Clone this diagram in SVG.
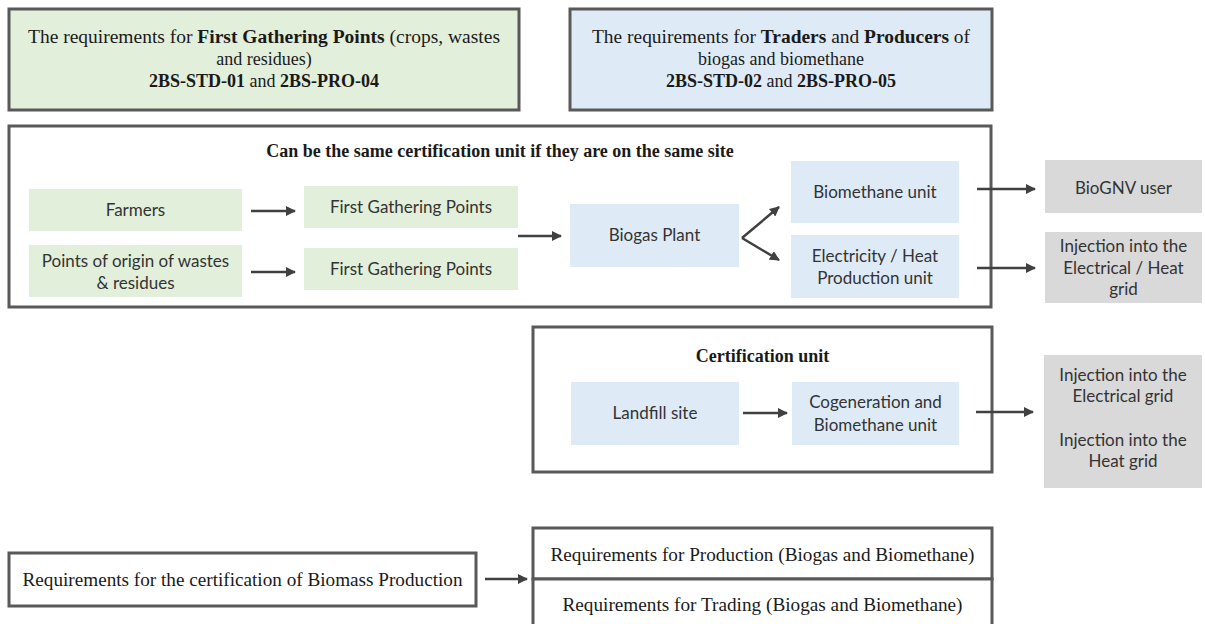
<svg xmlns="http://www.w3.org/2000/svg" width="1205" height="624" viewBox="0 0 1205 624">
<defs>
<style>
.frame{fill:#fff;stroke:#595959;stroke-width:3}
.g{fill:#e2efda}
.b{fill:#deebf7}
.gr{fill:#d9d9d9}
.serif{font-family:"Liberation Serif","DejaVu Serif",serif;font-size:18px;fill:#1a1a1a;text-anchor:middle}
.sans{font-family:Lato,"Liberation Sans",sans-serif;font-size:17px;fill:#333;text-anchor:middle}
.bold{font-weight:bold}
.conn line{stroke:#404040;stroke-width:2.5;marker-end:url(#ah)}
</style>
<marker id="ah" viewBox="0 0 10 10" refX="9" refY="5" markerWidth="4" markerHeight="4" orient="auto" markerUnits="strokeWidth">
<path d="M0,0 L10,5 L0,10 z" fill="#404040"/>
</marker>
</defs>
<rect width="1205" height="624" fill="#fff"/>

<g id="req-fgp">
<rect x="9" y="9" width="510" height="101" class="frame g"/>
<text class="serif" x="264" y="43" textLength="472" lengthAdjust="spacingAndGlyphs">The requirements for <tspan class="bold">First Gathering Points</tspan> (crops, wastes</text>
<text class="serif" x="264" y="65">and residues)</text>
<text class="serif" x="264" y="87"><tspan class="bold">2BS-STD-01</tspan> and <tspan class="bold">2BS-PRO-04</tspan></text>
</g>

<g id="req-traders">
<rect x="570" y="9" width="422" height="101" class="frame b"/>
<text class="serif" x="781" y="43" textLength="378" lengthAdjust="spacingAndGlyphs">The requirements for <tspan class="bold">Traders</tspan> and <tspan class="bold">Producers</tspan> of</text>
<text class="serif" x="781" y="65">biogas and biomethane</text>
<text class="serif" x="781" y="87"><tspan class="bold">2BS-STD-02</tspan> and <tspan class="bold">2BS-PRO-05</tspan></text>
</g>

<g id="same-site-unit">
<rect x="9" y="126" width="982" height="181" class="frame"/>
<text class="serif bold" x="500" y="157">Can be the same certification unit if they are on the same site</text>
</g>

<g id="farmers">
<rect x="29" y="189" width="213" height="42" class="g"/>
<text class="sans" x="135.5" y="216">Farmers</text>
</g>
<g id="points-origin">
<rect x="29" y="245" width="213" height="52" class="g"/>
<text class="sans" x="135.5" y="267">Points of origin of wastes</text>
<text class="sans" x="135.5" y="289">&amp; residues</text>
</g>
<g id="fgp1">
<rect x="304" y="186" width="214" height="42" class="g"/>
<text class="sans" x="411" y="213">First Gathering Points</text>
</g>
<g id="fgp2">
<rect x="304" y="248" width="214" height="42" class="g"/>
<text class="sans" x="411" y="275">First Gathering Points</text>
</g>
<g id="biogas-plant">
<rect x="570" y="204" width="169" height="63" class="b"/>
<text class="sans" x="654.5" y="241">Biogas Plant</text>
</g>
<g id="biomethane-unit">
<rect x="791" y="161" width="168" height="62" class="b"/>
<text class="sans" x="875" y="198">Biomethane unit</text>
</g>
<g id="elec-heat-unit">
<rect x="791" y="235" width="168" height="63" class="b"/>
<text class="sans" x="875" y="262">Electricity / Heat</text>
<text class="sans" x="875" y="284">Production unit</text>
</g>
<g id="biognv-user">
<rect x="1045" y="160" width="157" height="53" class="gr"/>
<text class="sans" x="1123.5" y="194">BioGNV user</text>
</g>
<g id="injection-elec-heat">
<rect x="1045" y="232" width="157" height="71" class="gr"/>
<text class="sans" x="1123.5" y="252">Injection into the</text>
<text class="sans" x="1123.5" y="274">Electrical / Heat</text>
<text class="sans" x="1123.5" y="295">grid</text>
</g>

<g id="certification-unit">
<rect x="533" y="327" width="459" height="145" class="frame"/>
<text class="serif bold" x="762.5" y="362">Certification unit</text>
</g>
<g id="landfill">
<rect x="571" y="382" width="168" height="63" class="b"/>
<text class="sans" x="655" y="419">Landfill site</text>
</g>
<g id="cogeneration">
<rect x="792" y="382" width="167" height="63" class="b"/>
<text class="sans" x="875.5" y="408">Cogeneration and</text>
<text class="sans" x="875.5" y="431">Biomethane unit</text>
</g>
<g id="injection-grids">
<rect x="1044" y="355" width="158" height="133" class="gr"/>
<text class="sans" x="1123" y="381">Injection into the</text>
<text class="sans" x="1123" y="402">Electrical grid</text>
<text class="sans" x="1123" y="446">Injection into the</text>
<text class="sans" x="1123" y="467">Heat grid</text>
</g>

<g id="biomass-req">
<rect x="9" y="553" width="467" height="53" class="frame"/>
<text class="serif" x="242.5" y="586" textLength="440" lengthAdjust="spacingAndGlyphs">Requirements for the certification of Biomass Production</text>
</g>
<g id="production-req">
<rect x="533" y="528" width="459" height="51" class="frame"/>
<text class="serif" x="762.5" y="561" textLength="424" lengthAdjust="spacingAndGlyphs">Requirements for Production (Biogas and Biomethane)</text>
</g>
<g id="trading-req">
<rect x="533" y="579" width="459" height="60" class="frame"/>
<text class="serif" x="762.5" y="611" textLength="400" lengthAdjust="spacingAndGlyphs">Requirements for Trading (Biogas and Biomethane)</text>
</g>

<g id="connectors" class="conn">
<line x1="251" y1="211" x2="295" y2="211"/>
<line x1="251" y1="272" x2="295" y2="272"/>
<line x1="518" y1="236" x2="561" y2="236"/>
<line x1="742" y1="238" x2="779" y2="207"/>
<line x1="742" y1="238" x2="779" y2="260"/>
<line x1="977" y1="189" x2="1035" y2="189"/>
<line x1="977" y1="268" x2="1035" y2="268"/>
<line x1="743" y1="413" x2="787" y2="413"/>
<line x1="976" y1="412" x2="1033" y2="412"/>
<line x1="485" y1="579" x2="527" y2="579"/>
</g>
</svg>
